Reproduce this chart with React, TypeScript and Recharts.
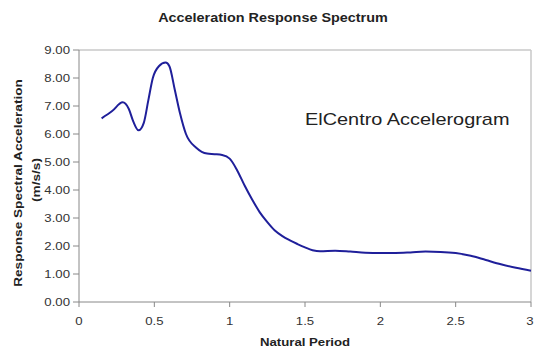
import { LineChart, Line, XAxis, YAxis, ReferenceLine } from "recharts";

// Natural period (s) and spectral acceleration (m/s/s)
const periods = [
  0.15, 0.22, 0.29, 0.33, 0.36, 0.395, 0.43, 0.46, 0.49, 0.53, 0.575, 0.6, 0.635, 0.67, 0.71, 0.78,
  0.85, 0.9, 0.95, 1.0, 1.05, 1.1, 1.15, 1.2, 1.25, 1.3, 1.35, 1.4, 1.45, 1.5, 1.55, 1.6, 1.7, 1.8,
  1.9, 2.0, 2.1, 2.2, 2.3, 2.4, 2.5, 2.6, 2.7, 2.8, 2.9, 3.0,
];
const accel = [
  6.56, 6.82, 7.13, 6.9, 6.45, 6.13, 6.4, 7.2, 8.0, 8.42, 8.55, 8.42, 7.6, 6.75, 6.0, 5.5,
  5.3, 5.28, 5.25, 5.12, 4.7, 4.15, 3.65, 3.2, 2.85, 2.55, 2.35, 2.2, 2.07, 1.95, 1.85, 1.81, 1.83,
  1.8, 1.76, 1.75, 1.75, 1.77, 1.8, 1.79, 1.75, 1.65, 1.5, 1.35, 1.22, 1.12,
];
const xTicks = [0, 0.5, 1, 1.5, 2, 2.5, 3];
const yTicks = [0, 1, 2, 3, 4, 5, 6, 7, 8, 9];

const data = periods.map((t, i) => ({ t, a: accel[i] }));

const FONT = "'Liberation Sans', Arial, sans-serif";
const STRETCH = 1.2; // the reference image is a bit wide, so its text is too

function XTick({ x, y, payload }: any) {
  return (
    <g transform={`translate(${x},${y})`}>
      <text transform={`scale(${STRETCH},1)`} textAnchor="middle" dy="0.71em" fontSize={11} fill="#333" fontFamily={FONT}>
        {String(payload.value)}
      </text>
    </g>
  );
}

function YTick({ x, y, payload }: any) {
  return (
    <g transform={`translate(${x},${y})`}>
      <text transform={`scale(${STRETCH},1)`} textAnchor="end" dy="0.355em" fontSize={11} fill="#333" fontFamily={FONT}>
        {Number(payload.value).toFixed(2)}
      </text>
    </g>
  );
}

export default function App() {
  return (
    <div style={{ position: "absolute", left: 0, top: 0, width: 534, height: 350, background: "#fff" }}>
      <LineChart width={534} height={350} data={data} margin={{ top: 50, right: 3, left: 0, bottom: 18 }}>
        <XAxis
          dataKey="t"
          type="number"
          domain={[0, 3]}
          ticks={xTicks}
          stroke="#888"
          tickSize={5}
          tickMargin={10}
          height={30}
          tick={<XTick />}
          tickLine={{ stroke: "#888" }}
        />
        <YAxis
          type="number"
          domain={[0, 9]}
          ticks={yTicks}
          width={79}
          stroke="#888"
          tickSize={6}
          tickMargin={3}
          tick={<YTick />}
        />
        <ReferenceLine y={9} stroke="#c8c8c8" strokeWidth={1.5} />
        <ReferenceLine x={3} stroke="#c8c8c8" strokeWidth={1.5} />
        <Line
          type="monotone"
          dataKey="a"
          stroke="#1f1f9a"
          strokeWidth={2}
          dot={false}
          isAnimationActive={false}
        />
      </LineChart>
      <svg
        width={534}
        height={350}
        style={{ position: "absolute", left: 0, top: 0, pointerEvents: "none" }}
        fontFamily={FONT}
        fill="#222"
      >
        <g transform="translate(273,22)">
          <text transform={`scale(${STRETCH},1)`} textAnchor="middle" fontSize={12} fontWeight="bold">
            Acceleration Response Spectrum
          </text>
        </g>
        <g transform="translate(305,346)">
          <text transform={`scale(${STRETCH},1)`} textAnchor="middle" fontSize={11} fontWeight="bold">
            Natural Period
          </text>
        </g>
        <g transform="translate(22,183) rotate(-90)">
          <text transform="scale(1.24,1)" textAnchor="middle" fontSize={11} fontWeight="bold">
            Response Spectral Acceleration
          </text>
        </g>
        <g transform="translate(40,180) rotate(-90)">
          <text transform="scale(1.24,1)" textAnchor="middle" fontSize={11} fontWeight="bold">
            (m/s/s)
          </text>
        </g>
        <g transform="translate(305,125)">
          <text transform="scale(1.17,1)" fontSize={17}>
            ElCentro Accelerogram
          </text>
        </g>
      </svg>
    </div>
  );
}
